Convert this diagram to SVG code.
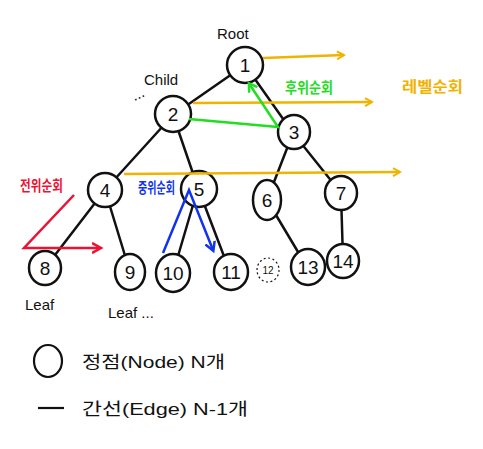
<svg xmlns="http://www.w3.org/2000/svg" width="483" height="449" viewBox="0 0 483 449">
<style>
.n{fill:#fff;stroke:#111;stroke-width:2.5}
.t{font-family:"Liberation Sans","Noto Sans CJK KR",sans-serif;font-size:19px;fill:#111;text-anchor:middle}
.e{stroke:#111;stroke-width:2.5;fill:none;stroke-linecap:round}
.lb{font-family:"Liberation Sans","Noto Sans CJK KR",sans-serif;font-size:15px;fill:#111}
.k{font-family:"Noto Sans CJK KR",sans-serif;font-size:15px;font-weight:bold}
</style>
<defs>
<marker id="ao" markerWidth="10" markerHeight="10" refX="8" refY="5" orient="auto" markerUnits="userSpaceOnUse"><path d="M1,1 L8,5 L1,9" fill="none" stroke="#f0b400" stroke-width="2"/></marker>
<marker id="ag" markerWidth="12" markerHeight="12" refX="6" refY="6" orient="auto" markerUnits="userSpaceOnUse"><path d="M0,1 L8,6 L0,11" fill="none" stroke="#22dd22" stroke-width="2.5"/></marker>
<marker id="ar" markerWidth="12" markerHeight="12" refX="8" refY="6" orient="auto" markerUnits="userSpaceOnUse"><path d="M0,1 L9,6 L0,11" fill="none" stroke="#ee1133" stroke-width="2.5"/></marker>
<marker id="ab" markerWidth="12" markerHeight="12" refX="8" refY="6" orient="auto" markerUnits="userSpaceOnUse"><path d="M0,1 L9,6 L0,11" fill="none" stroke="#1133ee" stroke-width="2.5"/></marker>
</defs>
<g id="connectors">
<line class="e" x1="245" y1="65" x2="173" y2="115"/>
<line class="e" x1="245" y1="65" x2="293" y2="133"/>
<line class="e" x1="173" y1="115" x2="105" y2="190"/>
<line class="e" x1="173" y1="115" x2="198" y2="188"/>
<line class="e" x1="293" y1="133" x2="267" y2="200"/>
<line class="e" x1="293" y1="133" x2="341" y2="193"/>
<line class="e" x1="105" y1="190" x2="45" y2="268"/>
<line class="e" x1="105" y1="190" x2="130" y2="272"/>
<line class="e" x1="198" y1="188" x2="173" y2="273"/>
<line class="e" x1="198" y1="188" x2="230" y2="272"/>
<line class="e" x1="267" y1="200" x2="307" y2="267"/>
<line class="e" x1="341" y1="193" x2="343" y2="260"/>
</g>
<g id="n1"><ellipse class="n" cx="245" cy="65" rx="18" ry="18"/><text class="t" x="245" y="72">1</text></g>
<g id="n2"><ellipse class="n" cx="173" cy="114" rx="18" ry="18"/><text class="t" x="173" y="121">2</text></g>
<g id="n3"><ellipse class="n" cx="294" cy="132" rx="16" ry="17"/><text class="t" x="294" y="139">3</text></g>
<g id="n4"><ellipse class="n" cx="105" cy="190" rx="17" ry="17"/><text class="t" x="105" y="197">4</text></g>
<g id="n5"><ellipse class="n" cx="199" cy="189" rx="18" ry="18"/><text class="t" x="199" y="196">5</text></g>
<g id="n6"><ellipse class="n" cx="267" cy="200" rx="14" ry="20"/><text class="t" x="267" y="207">6</text></g>
<g id="n7"><ellipse class="n" cx="341" cy="193" rx="16" ry="17"/><text class="t" x="341" y="200">7</text></g>
<g id="n8"><ellipse class="n" cx="45" cy="268" rx="16" ry="17"/><text class="t" x="45" y="275">8</text></g>
<g id="n9"><ellipse class="n" cx="130" cy="272" rx="15" ry="18"/><text class="t" x="130" y="279">9</text></g>
<g id="n10"><ellipse class="n" cx="173" cy="273" rx="17" ry="19"/><text class="t" x="173" y="280">10</text></g>
<g id="n11"><ellipse class="n" cx="231" cy="272" rx="17" ry="18"/><text class="t" x="231" y="279">11</text></g>
<g id="n12"><ellipse cx="268" cy="270" rx="11" ry="12" fill="#fff" stroke="#111" stroke-width="1.2" stroke-dasharray="2,2.5"/><text x="268" y="274" font-family="Liberation Sans,sans-serif" font-size="10" text-anchor="middle" fill="#111">12</text></g>
<g id="n13"><ellipse class="n" cx="308" cy="267" rx="17" ry="18"/><text class="t" x="308" y="274">13</text></g>
<g id="n14"><ellipse class="n" cx="343" cy="261" rx="16" ry="17"/><text class="t" x="343" y="268">14</text></g>
<g id="traversals">
<path d="M263,58 L344,55" stroke="#f0b400" stroke-width="2.5" fill="none" marker-end="url(#ao)"/>
<path d="M193,103 L372,102" stroke="#f0b400" stroke-width="2.5" fill="none" marker-end="url(#ao)"/>
<path d="M124,174 L400,172" stroke="#f0b400" stroke-width="2.5" fill="none" marker-end="url(#ao)"/>
<path d="M189,119 L278,127 L250,85" stroke="#22dd22" stroke-width="2.5" fill="none" marker-end="url(#ag)"/>
<path d="M74,195 L24,248 L100,248" stroke="#ee1133" stroke-width="2.5" fill="none" marker-end="url(#ar)"/>
<path d="M163,253 L189,190 L213,250" stroke="#1133ee" stroke-width="2.5" fill="none" marker-end="url(#ab)"/>
</g>
<g id="labels">
<text class="lb" x="217" y="39">Root</text>
<text class="lb" x="144" y="85">Child</text>
<text class="lb" x="132" y="99" transform="rotate(-25 138 95)">...</text>
<text class="k" x="285" y="93" fill="#22dd22" textLength="48" lengthAdjust="spacingAndGlyphs">후위순회</text>
<text class="k" x="402" y="92" fill="#f0b400" textLength="61" lengthAdjust="spacingAndGlyphs">레벨순회</text>
<text class="k" x="20" y="191" fill="#ee1133" textLength="43" lengthAdjust="spacingAndGlyphs">전위순회</text>
<text class="k" x="138" y="193" fill="#1133ee" textLength="37" lengthAdjust="spacingAndGlyphs">중위순회</text>
<text class="lb" x="25" y="310">Leaf</text>
<text class="lb" x="108" y="318">Leaf ...</text>
</g>
<g id="legend">
<ellipse cx="48" cy="361" rx="14" ry="16" fill="none" stroke="#111" stroke-width="2.2"/>
<text x="82" y="368" font-family="Liberation Sans,Noto Sans CJK KR,sans-serif" font-size="17" fill="#111" textLength="143" lengthAdjust="spacingAndGlyphs">정점(Node) N개</text>
<line x1="38" y1="408" x2="64" y2="408" stroke="#111" stroke-width="2.2"/>
<text x="82" y="415" font-family="Liberation Sans,Noto Sans CJK KR,sans-serif" font-size="17" fill="#111" textLength="166" lengthAdjust="spacingAndGlyphs">간선(Edge) N-1개</text>
</g>
</svg>
